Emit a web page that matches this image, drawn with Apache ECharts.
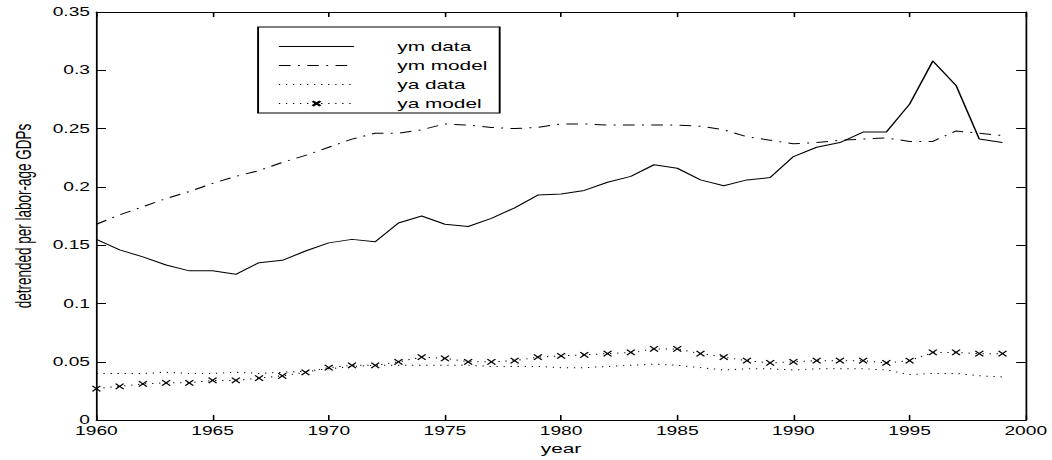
<!DOCTYPE html>
<html>
<head>
<meta charset="utf-8">
<script src="https://cdn.jsdelivr.net/npm/echarts@6/dist/echarts.min.js"></script>
<style>
html,body{margin:0;padding:0;background:#fff;overflow:hidden;}
#wrap{width:1052px;height:460px;overflow:hidden;}
#chart{width:657.5px;height:460px;transform:scaleX(1.6);transform-origin:0 0;}
</style>
</head>
<body>
<div id="wrap"><div id="chart"></div></div>
<script>
const years = [1960,1961,1962,1963,1964,1965,1966,1967,1968,1969,
               1970,1971,1972,1973,1974,1975,1976,1977,1978,1979,
               1980,1981,1982,1983,1984,1985,1986,1987,1988,1989,
               1990,1991,1992,1993,1994,1995,1996,1997,1998,1999];
const ymData = [0.155,0.146,0.140,0.133,0.128,0.128,0.125,0.135,0.137,0.145,
                0.152,0.155,0.153,0.169,0.175,0.168,0.166,0.173,0.182,0.193,
                0.194,0.197,0.204,0.209,0.219,0.216,0.206,0.201,0.206,0.208,
                0.226,0.234,0.238,0.247,0.247,0.271,0.308,0.287,0.241,0.238];
const ymModel = [0.168,0.176,0.183,0.190,0.196,0.203,0.209,0.214,0.221,0.227,
                 0.234,0.241,0.246,0.246,0.249,0.254,0.253,0.251,0.250,0.251,
                 0.254,0.254,0.253,0.253,0.253,0.253,0.252,0.249,0.243,0.240,
                 0.237,0.238,0.240,0.241,0.242,0.239,0.239,0.248,0.246,0.244];
const yaData = [0.040,0.040,0.040,0.041,0.040,0.040,0.041,0.040,0.041,0.042,
                0.044,0.046,0.047,0.047,0.047,0.047,0.047,0.046,0.046,0.046,
                0.045,0.045,0.046,0.047,0.048,0.047,0.045,0.043,0.044,0.044,
                0.043,0.044,0.044,0.044,0.043,0.039,0.040,0.040,0.038,0.037];
const yaModel = [0.027,0.029,0.031,0.032,0.032,0.034,0.034,0.036,0.038,0.041,
                 0.045,0.047,0.047,0.050,0.054,0.053,0.050,0.050,0.051,0.054,
                 0.055,0.056,0.057,0.058,0.061,0.061,0.057,0.054,0.051,0.049,
                 0.050,0.051,0.051,0.051,0.049,0.051,0.058,0.058,0.057,0.057];
const seriesNames = ['ym data','ym model','ya data','ya model'];
const xTicks = {min:1960, max:2000, interval:5};
const yTicks = {min:0, max:0.35, interval:0.05};

const zip = arr => years.map((y,i)=>[y,arr[i]]);
const FONT = '"Liberation Sans", Arial, sans-serif';
const dotted = [0.8, 3.6];
const dashDot = [7.3, 4.6, 1.2, 4.6];
const xPath = 'path://M0,0L10,10M0,10L10,0';

const chart = echarts.init(document.getElementById('chart'), null, {renderer:'svg'});
const axisCommon = {
  axisLine:{show:true, onZero:false, lineStyle:{color:'#000', width:1.1}},
  splitLine:{show:false}
};
const hiddenSym = {opacity:0, color:'transparent', borderWidth:0};
chart.setOption({
  animation:false,
  backgroundColor:'#fff',
  grid:{left:51.9, right:16.9, top:12, bottom:38, containLabel:false},
  xAxis:[
    Object.assign({type:'value', position:'bottom', min:xTicks.min, max:xTicks.max, interval:xTicks.interval,
      name:'year', nameLocation:'middle', nameGap:14,
      nameTextStyle:{fontFamily:FONT, fontSize:13, color:'#000'},
      axisLabel:{fontFamily:FONT, fontSize:12, color:'#000', margin:5, formatter:v=>String(v)}}, axisCommon,
      {axisTick:{show:true, inside:true, length:5, lineStyle:{color:'#000'}}}),
    Object.assign({type:'value', position:'top', min:xTicks.min, max:xTicks.max, interval:xTicks.interval,
      axisLabel:{show:false}}, axisCommon,
      {axisTick:{show:true, inside:true, length:5, lineStyle:{color:'#000'}}})
  ],
  yAxis:[
    Object.assign({type:'value', position:'left', min:yTicks.min, max:yTicks.max, interval:yTicks.interval,
      name:'detrended per labor-age GDPs', nameLocation:'middle', nameGap:32, nameRotate:90,
      nameTextStyle:{fontFamily:FONT, fontSize:13.5, color:'#000'},
      axisLabel:{fontFamily:FONT, fontSize:12, color:'#000', margin:4}}, axisCommon,
      {axisTick:{show:true, inside:true, length:6, lineStyle:{color:'#000'}}}),
    Object.assign({type:'value', position:'right', min:yTicks.min, max:yTicks.max, interval:yTicks.interval,
      axisLabel:{show:false}}, axisCommon,
      {axisTick:{show:true, inside:true, length:6, lineStyle:{color:'#000'}}})
  ],
  legend:{
    orient:'vertical', left:161.3, top:27,
    padding:[10,6,0,12.5],
    itemWidth:47, itemHeight:6, itemGap:0,
    backgroundColor:'#fff', borderColor:'#000', borderWidth:1.2,
    lineStyle:{width:1},
    textStyle:{fontFamily:FONT, fontSize:13, color:'#000', lineHeight:19, width:58, padding:[0,0,0,22]},
    data:[
      {name:seriesNames[0], itemStyle:hiddenSym},
      {name:seriesNames[1], itemStyle:hiddenSym},
      {name:seriesNames[2], itemStyle:hiddenSym},
      {name:seriesNames[3]}
    ]
  },
  series:[
    {name:seriesNames[0], type:'line', data:zip(ymData), symbol:'none',
     lineStyle:{color:'#000', width:1, type:'solid'}, itemStyle:{color:'#000'}},
    {name:seriesNames[1], type:'line', data:zip(ymModel), symbol:'none',
     lineStyle:{color:'#000', width:1, type:dashDot}, itemStyle:{color:'#000'}},
    {name:seriesNames[2], type:'line', data:zip(yaData), symbol:'none',
     lineStyle:{color:'#000', width:1, type:dotted}, itemStyle:{color:'#000'}},
    {name:seriesNames[3], type:'line', data:zip(yaModel), symbol:xPath, symbolSize:[5,5.5], symbolKeepAspect:false,
     showAllSymbol:true,
     lineStyle:{color:'#000', width:1, type:dotted}, itemStyle:{color:'#000', borderColor:'#000', borderWidth:1}}
  ]
});
</script>
</body>
</html>
